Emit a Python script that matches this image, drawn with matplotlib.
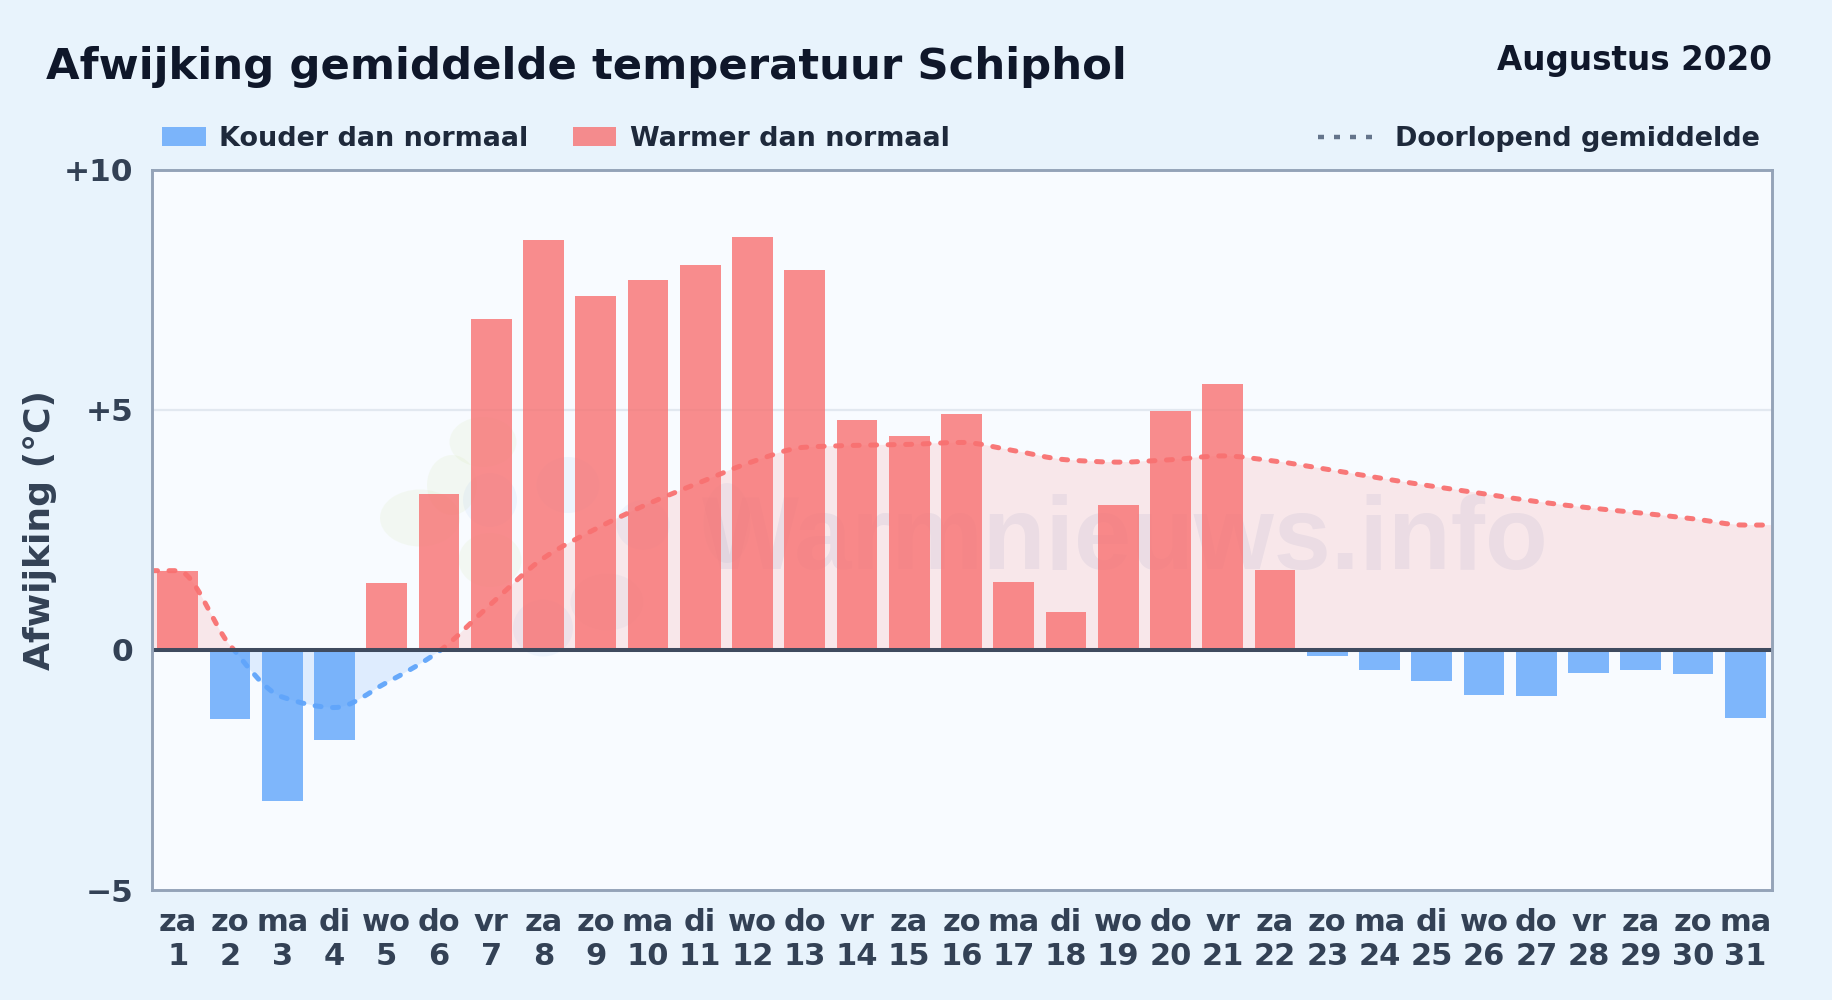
import matplotlib
matplotlib.use("Agg")
import numpy as np
import matplotlib.pyplot as plt
from matplotlib.patches import Ellipse, PathPatch, Rectangle
from matplotlib.lines import Line2D
from matplotlib.path import Path

W, H = 1832, 1000

dagen = ["za", "zo", "ma", "di", "wo", "do", "vr"] * 5
dagen = dagen[:31]
dag_nummers = list(range(1, 32))

afwijking = [1.65, -1.44, -3.14, -1.87, 1.40, 3.25, 6.90, 8.54, 7.38, 7.71, 8.02,
             8.60, 7.92, 4.79, 4.46, 4.92, 1.42, 0.79, 3.02, 4.98, 5.54, 1.67,
             -0.12, -0.41, -0.64, -0.93, -0.97, -0.49, -0.41, -0.51, -1.41]

gemiddelde = [1.65, 0.10, -0.98, -1.20, -0.68, -0.03, 0.96, 1.91, 2.52, 3.04, 3.49,
              3.92, 4.22, 4.26, 4.28, 4.32, 4.15, 3.96, 3.91, 3.96, 4.04, 3.93,
              3.76, 3.58, 3.41, 3.25, 3.09, 2.96, 2.85, 2.73, 2.60]

y_ticks = [-5, 0, 5, 10]
y_tick_labels = ["\u22125", "0", "+5", "+10"]

ROOD = "#f87171"
BLAUW = "#60a5fa"

AX_L, AX_R, AX_T, AX_B = 151.5, 1771.5, 169.7, 890


def fx(px):
    return px / W


def fy(py):
    return 1 - py / H


def smooth_path(x, y):
    # cubic bezier through the points, flat tangents at turning points
    x = np.asarray(x, float)
    y = np.asarray(y, float)
    h = np.diff(x)
    s = np.diff(y) / h
    t = np.zeros_like(y)
    for i in range(1, len(y) - 1):
        if s[i - 1] * s[i] > 0:
            t[i] = 2 * s[i - 1] * s[i] / (s[i - 1] + s[i])
    verts = [(x[0], y[0])]
    codes = [Path.MOVETO]
    for i in range(len(h)):
        verts += [(x[i] + h[i] / 3, y[i] + t[i] * h[i] / 3),
                  (x[i + 1] - h[i] / 3, y[i + 1] - t[i + 1] * h[i] / 3),
                  (x[i + 1], y[i + 1])]
        codes += [Path.CURVE4] * 3
    return verts, codes


fig = plt.figure(figsize=(W / 100, H / 100), dpi=100, facecolor="#e8f3fc")
ax = fig.add_axes([fx(AX_L), fy(AX_B), (AX_R - AX_L) / W, (AX_B - AX_T) / H], facecolor="#f8fbff")

x = np.arange(31)
ax.set_xlim(-0.5, 30.5)
ax.set_ylim(-5, 10)

# watermark: logo blobs and site name
logo = [(483, 442, 67, 50, "#cfe3a0"), (420, 518, 80, 57, "#cfe3a0"), (452, 485, 50, 60, "#cfe3a0"),
        (490, 560, 63, 54, "#cfe3a0"), (490, 500, 54, 54, "#a9c8f0"), (568, 485, 63, 56, "#a9c8f0"),
        (643, 525, 53, 50, "#a9c8f0"), (727, 523, 47, 80, "#a9b8e0"), (543, 628, 60, 57, "#a9c8f0"),
        (607, 602, 73, 57, "#b9c8e0")]
for lx, ly, lw_, lh, c in logo:
    ax.add_patch(Ellipse(((lx - AX_L) / (AX_R - AX_L), (AX_B - ly) / (AX_B - AX_T)),
                         lw_ / (AX_R - AX_L), lh / (AX_B - AX_T),
                         transform=ax.transAxes, color=c, alpha=0.13, lw=0, zorder=0.5))
ax.text((1125 - AX_L) / (AX_R - AX_L), (AX_B - 569) / (AX_B - AX_T), "Warmnieuws.info", transform=ax.transAxes,
        family="Liberation Sans", fontweight="bold", fontsize=74, ha="center", va="baseline",
        color="#3b5a9a", alpha=0.08, zorder=0.6)

ax.axhline(5, color="#e2e8f0", lw=1.6, zorder=1)

# running mean, extended flat to both axis edges
lijn_x = [-0.5] + list(x) + [30.5]
lijn_y = [gemiddelde[0]] + gemiddelde + [gemiddelde[-1]]
verts, codes = smooth_path(lijn_x, lijn_y)

boven = Rectangle((-0.5, 0), 31, 10, transform=ax.transData)
onder = Rectangle((-0.5, -5), 31, 5, transform=ax.transData)

vlak = Path(verts + [(30.5, 0), (-0.5, 0), (-0.5, 0)],
            codes + [Path.LINETO, Path.LINETO, Path.CLOSEPOLY])
for clip, kleur, a in [(boven, ROOD, 0.14), (onder, BLAUW, 0.17)]:
    p = PathPatch(vlak, facecolor=kleur, edgecolor="none", alpha=a, zorder=1.5)
    ax.add_patch(p)
    p.set_clip_path(clip)

kleuren = [ROOD if v >= 0 else BLAUW for v in afwijking]
ax.bar(x, afwijking, width=0.78, color=kleuren, alpha=0.8, lw=0, zorder=2)

lijn = Path(verts, codes)
for clip, kleur in [(boven, ROOD), (onder, BLAUW)]:
    p = PathPatch(lijn, facecolor="none", edgecolor=kleur, lw=3.6, alpha=0.95,
                  linestyle=(0, (1.2, 2.3)), capstyle="round", zorder=3)
    ax.add_patch(p)
    p.set_clip_path(clip)

ax.axhline(0, color="#3f4b5f", lw=2.9, zorder=4)

for s in ax.spines.values():
    s.set_color("#94a3b8")
    s.set_linewidth(2.1)
    s.set_zorder(5)

ax.set_yticks(y_ticks)
ax.set_yticklabels(y_tick_labels, fontsize=22.5, fontweight="bold", color="#334155")
ax.set_xticks(x)
ax.set_xticklabels([f"{d}\n{n}" for d, n in zip(dagen, dag_nummers)], fontsize=22,
                   fontweight="bold", color="#334155", linespacing=1.2)
ax.tick_params(axis="both", length=0)
ax.tick_params(axis="x", pad=13)
ax.tick_params(axis="y", pad=13)

fig.text(fx(40), fy(530), "Afwijking (\u00b0C)", rotation=90, fontsize=26, fontweight="bold",
         color="#334155", ha="center", va="center")

fig.text(fx(46), fy(79), "Afwijking gemiddelde temperatuur Schiphol", fontsize=31.25, fontweight="bold",
         color="#0f172a", ha="left", va="baseline")
fig.text(fx(1772), fy(70), "Augustus 2020", fontsize=23.5, fontweight="bold",
         color="#0f172a", ha="right", va="baseline")

# legend, placed by hand like the original
for x0, x1, kleur, tekst, tx in [(162, 206, BLAUW, "Kouder dan normaal", 219),
                                 (573, 616, ROOD, "Warmer dan normaal", 630.5)]:
    fig.add_artist(Rectangle((fx(x0), fy(146)), (x1 - x0) / W, 19 / H, transform=fig.transFigure,
                             facecolor=kleur, alpha=0.8, lw=0))
    fig.text(fx(tx), fy(136), tekst, fontsize=19.45, fontweight="bold", color="#1e293b",
             ha="left", va="center_baseline")
fig.add_artist(Line2D([fx(1317.6), fx(1372.4)], [fy(137), fy(137)], transform=fig.transFigure,
                      color="#64748b", lw=3.2, linestyle=(0, (1.35, 2.25)), dash_capstyle="butt"))
fig.text(fx(1395), fy(136), "Doorlopend gemiddelde", fontsize=19.45, fontweight="bold", color="#1e293b",
         ha="left", va="center_baseline")

fig.savefig("out.png", dpi=100, facecolor=fig.get_facecolor())
